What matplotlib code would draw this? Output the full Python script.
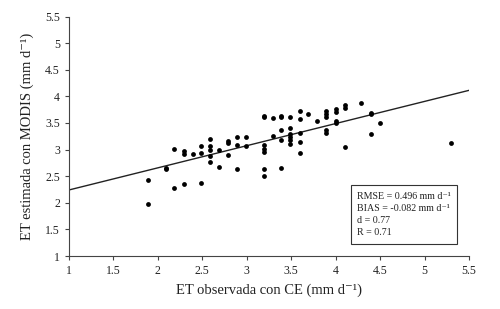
import matplotlib
matplotlib.use("Agg")
import matplotlib.pyplot as plt
import numpy as np

plt.rcParams['font.family'] = ['Liberation Serif', 'DejaVu Serif']

# observed ET (eddy covariance) vs MODIS estimate, mm/d
et_obs = [1.89, 1.89, 2.09, 2.09, 2.18, 2.18, 2.29, 2.29, 2.29, 2.39,
          2.49, 2.49, 2.49, 2.59, 2.59, 2.59, 2.59, 2.59, 2.69, 2.69,
          2.79, 2.79, 2.79, 2.89, 2.89, 2.89, 2.99, 2.99,
          3.19, 3.19, 3.19, 3.19, 3.19, 3.19, 3.19, 3.29, 3.29,
          3.39, 3.39, 3.39, 3.39, 3.39, 3.49, 3.49, 3.49, 3.49, 3.49, 3.49,
          3.60, 3.60, 3.60, 3.60, 3.60, 3.69, 3.79,
          3.89, 3.89, 3.89, 3.89, 3.89, 4.00, 4.00, 4.00, 4.00,
          4.10, 4.10, 4.10, 4.29, 4.40, 4.40, 4.40, 4.50, 5.30]
et_modis = [2.43, 1.97, 2.63, 2.66, 3.02, 2.28, 2.97, 2.91, 2.35, 2.91,
            3.07, 2.93, 2.37, 3.20, 3.06, 2.99, 2.88, 2.77, 3.00, 2.68,
            3.17, 3.12, 2.90, 3.23, 3.08, 2.63, 3.24, 3.06,
            3.63, 3.61, 3.09, 3.02, 2.95, 2.64, 2.50, 3.59, 3.26,
            3.64, 3.61, 3.37, 3.18, 2.66, 3.61, 3.41, 3.29, 3.24, 3.18, 3.10,
            3.73, 3.57, 3.31, 3.15, 2.93, 3.66, 3.54,
            3.73, 3.66, 3.62, 3.37, 3.31, 3.76, 3.70, 3.54, 3.49,
            3.84, 3.79, 3.04, 3.87, 3.69, 3.66, 3.29, 3.49, 3.12]

# regression line
slope = 0.416
intercept = 1.825

stats_text = ("RMSE = 0.496 mm d\u207b\u00b9\n"
              "BIAS = -0.082 mm d\u207b\u00b9\n"
              "d = 0.77\n"
              "R = 0.71")

fig = plt.figure(figsize=(5, 3.09), dpi=100)
ax = fig.add_axes([0.138, 0.1715, 0.800, 0.775])

ax.scatter(et_obs, et_modis, s=12, color='black', zorder=3, linewidths=0)

xl = np.array([1, 5.5])
ax.plot(xl, slope * xl + intercept, color='#222222', linewidth=1.0)

ax.set_xlim(1, 5.5)
ax.set_ylim(1, 5.5)
ticks = np.arange(1, 5.51, 0.5)
ax.set_xticks(ticks)
ax.set_yticks(ticks)
ax.set_xticklabels([f"{t:g}" for t in ticks])
ax.set_yticklabels([f"{t:g}" for t in ticks])
ax.tick_params(direction='out', length=3, width=0.8, labelsize=8.5,
               colors='#444444', labelcolor='#222222')

for s in ['top', 'right']:
    ax.spines[s].set_visible(False)
for s in ['left', 'bottom']:
    ax.spines[s].set_color('#444444')
    ax.spines[s].set_linewidth(0.8)

ax.set_xlabel("ET observada con CE (mm d\u207b\u00b9)", fontsize=10.5,
              color='#222222', labelpad=5)
ax.set_ylabel("ET estimada con MODIS (mm d\u207b\u00b9)", fontsize=10.5,
              color='#222222', labelpad=8)

ax.text(4.24, 2.21, stats_text, fontsize=7.2, va='top', ha='left',
        color='#222222', linespacing=1.45,
        bbox=dict(boxstyle='square,pad=0.65', facecolor='white',
                  edgecolor='#333333', linewidth=0.8))

fig.savefig("out.png", dpi=100)
